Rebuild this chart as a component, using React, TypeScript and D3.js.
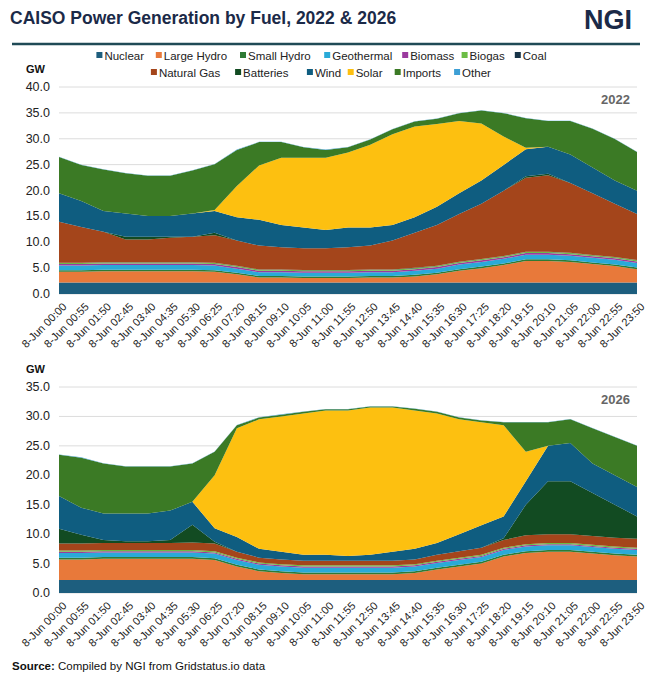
import React from "react";
import * as d3 from "d3";

const times = ["00:00","00:55","01:50","02:45","03:40","04:35","05:30","06:25","07:20","08:15","09:10","10:05","11:00","11:55","12:50","13:45","14:40","15:35","16:30","17:25","18:20","19:15","20:10","21:05","22:00","22:55","23:50"];

const fuels = ["Nuclear","Large Hydro","Small Hydro","Geothermal","Biomass","Biogas","Coal","Natural Gas","Batteries","Wind","Solar","Imports","Other"];
const colors = ["#1d5e7e","#e8793a","#2f7a34","#2aaad8","#9b3a9e","#6cbd45","#173448","#a4451b","#124b22","#0f5d80","#fdc010","#3b7a25","#3d9fd5"];

const rep = (v: number) => times.map(() => v);

// 2022
const nuclear22 = rep(2.2);
const largeHydro22 = [2.1,2.1,2.2,2.2,2.2,2.2,2.2,2.1,1.6,1.0,1.0,0.9,0.9,0.9,1.0,1.0,1.2,1.6,2.3,2.8,3.4,4.2,4.2,4.0,3.6,3.2,2.6];
const smallHydro22 = rep(0.3);
const geothermal22 = [0.9,0.9,0.9,0.9,0.9,0.9,0.9,0.9,0.8,0.7,0.7,0.7,0.7,0.7,0.7,0.7,0.8,0.8,0.9,0.9,0.9,0.9,0.9,0.9,0.9,0.9,0.9];
const biomass22 = rep(0.3);
const biogas22 = rep(0.2);
const coal22 = rep(0.05);
const gas22 = [7.9,6.9,5.9,4.4,4.4,4.7,4.9,5.3,4.9,4.6,4.3,4.2,4.2,4.4,4.6,5.6,6.8,7.9,9.2,10.7,12.6,14.3,14.8,13.5,11.9,10.3,8.9];
const batteries22 = [0,0,0,0.5,0.5,0.2,0,0.5,0,0,0,0,0,0,0,0,0,0,0,0,0,0.3,0.3,0,0,0,0];
const wind22 = [5.5,5,4,4.5,4,4,4.5,4.2,4.5,5,4.3,4,3.5,3.8,3.5,3,3,3.5,4,4.5,5,5.2,5.2,5.5,5,4.5,4.5];
const solar22 = [0,0,0,0,0,0,0,0.2,6,10.5,13,13.5,14,14.5,16,17.5,17.5,16,14,11,5.5,0.3,0,0,0,0,0];
const imports22 = [7,7,8,7.8,7.8,7.8,8.3,8.8,7,4.5,3,2,1.5,1,1,1,1,1,1.5,2.5,4.5,5.7,5,6.5,7.5,8,7.5];
const other22 = rep(0.05);

// 2026
const nuclear26 = rep(2.2);
const largeHydro26 = [3.5,3.5,3.6,3.6,3.6,3.6,3.6,3.4,2.3,1.5,1.2,1.0,1.0,1.0,1.0,1.0,1.2,1.8,2.3,2.8,4.0,4.6,4.8,4.8,4.5,4.2,4.0];
const smallHydro26 = rep(0.3);
const geothermal26 = rep(0.8);
const biomass26 = rep(0.2);
const biogas26 = rep(0.2);
const coal26 = rep(0);
const gas26 = [1.2,1.2,1.2,1.2,1.2,1.2,1.3,1.3,1.0,0.8,0.8,0.8,0.8,0.8,0.8,0.8,0.8,1.0,1.1,1.2,1.3,1.5,1.5,1.5,1.5,1.5,1.5];
const batteries26 = [2.5,1.5,0.5,0.3,0.3,0.5,3,0.3,0,0,0,0,0,0,0,0,0,0,0,0,0.3,5.2,9,9,7.3,5.6,3.8];
const wind26 = [5.6,4.6,4.5,4.7,4.7,5,3.9,2.3,2.5,1.5,1.3,1,1,0.8,1,1.5,1.8,2,2.9,3.8,3.7,4,6,6.5,5,5,5];
const solar26 = [0,0,0,0,0,0,0,9,18.5,22,23,24,24.5,24.7,25,24.5,23.5,22,19.5,17.5,15.5,5,0,0,0,0,0];
const imports26 = [7,8.5,8.5,8,8,7.5,6.5,4,0.5,0.3,0.3,0.3,0.2,0.2,0.2,0.2,0.3,0.3,0.3,0.3,0.5,5,4,4,6,6.5,7];
const other26 = rep(0.05);

const series22 = [nuclear22,largeHydro22,smallHydro22,geothermal22,biomass22,biogas22,coal22,gas22,batteries22,wind22,solar22,imports22,other22];
const series26 = [nuclear26,largeHydro26,smallHydro26,geothermal26,biomass26,biogas26,coal26,gas26,batteries26,wind26,solar26,imports26,other26];

const ticks22 = [0,5,10,15,20,25,30,35,40];
const ticks26 = [0,5,10,15,20,25,30,35];

const FONT = "Arial, 'Liberation Sans', sans-serif";
const x0 = 59, x1 = 637;

function Panel({ series, yTop, yBottom, max, ticks, label }: { series: number[][]; yTop: number; yBottom: number; max: number; ticks: number[]; label: string }) {
  const x = d3.scalePoint<string>().domain(times).range([x0, x1]);
  const y = d3.scaleLinear().domain([0, max]).range([yBottom, yTop]);
  const rows = times.map((t, i) => {
    const r: any = { t };
    fuels.forEach((f, k) => (r[f] = series[k][i]));
    return r;
  });
  const stacked = d3.stack<any>().keys(fuels)(rows);
  const area = d3.area<any>().x(d => x(d.data.t)!).y0(d => y(d[0])).y1(d => y(d[1]));
  return (
    <g>
      <text x={26} y={yTop - 14} fontSize={11} fontWeight="bold" fill="#111">GW</text>
      {ticks.map(t => (
        <g key={t}>
          <line x1={x0} x2={x1} y1={y(t)} y2={y(t)} stroke="#dcdcdc" strokeWidth={1} />
          <text x={50} y={y(t) + 4} textAnchor="end" fontSize={12.5} fill="#222">{t.toFixed(1)}</text>
        </g>
      ))}
      {stacked.map((s, k) => (
        <path key={s.key} d={area(s) || ""} fill={colors[k]} />
      ))}
      <text x={630} y={yTop + 17} textAnchor="end" fontSize={13} fontWeight="bold" fill="#666">{label}</text>
      {times.map(t => (
        <text key={t} transform={`translate(${x(t)! + 3},${yBottom + 8}) rotate(-45)`} textAnchor="end" fontSize={11} fill="#222" dy="0.7em">8-Jun {t}</text>
      ))}
    </g>
  );
}

export default function App() {
  const legendRows = [fuels.slice(0, 7), fuels.slice(7)];
  return (
    <svg width={652} height={680} style={{ position: "absolute", left: 0, top: 0, background: "#fff" }} fontFamily={FONT}>
      <text x={10} y={24} fontSize={17.5} fontWeight="bold" fill="#1b2a48">CAISO Power Generation by Fuel, 2022 &amp; 2026</text>
      <text x={632} y={29} textAnchor="end" fontSize={27} fontWeight="bold" fill="#1b2a48">NGI</text>
      <line x1={12} x2={640} y1={44} y2={44} stroke="#1f4a56" strokeWidth={2.5} />
      {legendRows.map((row, ri) => {
        const widths = row.map(f => 10 + f.length * 6.2 + 6);
        const total = d3.sum(widths);
        let cx = 326 - total / 2;
        return row.map(f => {
          const k = fuels.indexOf(f);
          const gx = cx;
          cx += 10 + f.length * 6.2 + 6;
          const yy = 60 + ri * 17;
          return (
            <g key={f}>
              <rect x={gx} y={yy - 8} width={6} height={6} fill={colors[k]} />
              <text x={gx + 8} y={yy} fontSize={11.5} fill="#222">{f}</text>
            </g>
          );
        });
      })}
      <Panel series={series22} yTop={87} yBottom={294} max={40} ticks={ticks22} label="2022" />
      <Panel series={series26} yTop={387} yBottom={593} max={35} ticks={ticks26} label="2026" />
      <text x={12} y={670} fontSize={11.5} fill="#111"><tspan fontWeight="bold">Source:</tspan> Compiled by NGI from Gridstatus.io data</text>
    </svg>
  );
}
